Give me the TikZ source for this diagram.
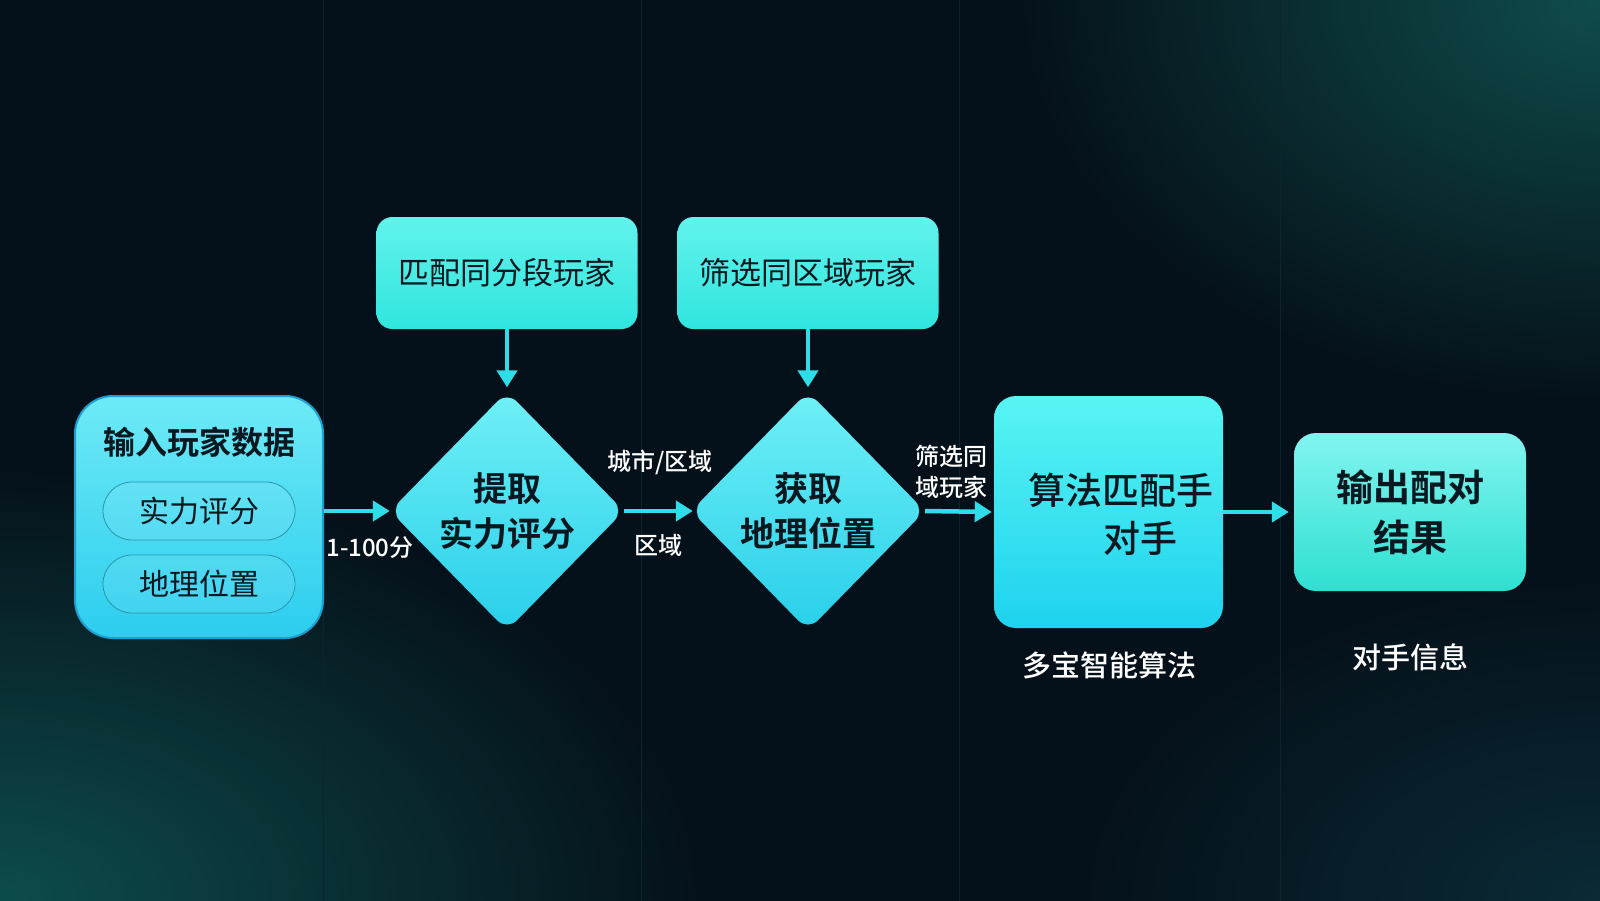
\documentclass[tikz,border=0pt]{standalone}
\usepackage{fontspec}
\setmainfont{Noto Sans CJK SC}[BoldFont={Noto Sans CJK SC Bold}]
\newfontfamily\cjkmed{Noto Sans CJK SC Medium}
\usetikzlibrary{shapes.geometric,arrows.meta}
\definecolor{bgc}{HTML}{05111A}
\definecolor{glowbl}{HTML}{0D4C4B}
\definecolor{glowtr}{HTML}{0F4C4A}
\definecolor{glowbr}{HTML}{0A2A36}
\definecolor{gridc}{HTML}{0C2430}
\definecolor{arrowc}{HTML}{2EDDE8}
\definecolor{inktext}{HTML}{071820}
\definecolor{inTop}{HTML}{6EEAF6}
\definecolor{inBot}{HTML}{2CCDEE}
\definecolor{inEdge}{HTML}{1E9FD2}
\definecolor{tbTop}{HTML}{62F2EC}
\definecolor{tbBot}{HTML}{2FE6DE}
\definecolor{diTop}{HTML}{70F0F6}
\definecolor{diBot}{HTML}{28CFEA}
\definecolor{alTop}{HTML}{58F4F2}
\definecolor{alBot}{HTML}{1ED2EE}
\definecolor{ouTop}{HTML}{82F4F0}
\definecolor{ouBot}{HTML}{2EE0D0}
\definecolor{pillEdge}{HTML}{2696AE}
\tikzset{
  flow/.style={draw=arrowc, line width=4.5pt, -{Triangle[length=17pt,width=20pt]}},
  inbox/.style={rectangle, rounded corners=38pt, minimum width=248pt, minimum height=242pt,
    draw=inEdge, line width=2pt, top color=inTop, bottom color=inBot},
  pill/.style={rectangle, rounded corners=29pt, minimum width=192pt, minimum height=58pt,
    draw=pillEdge, line width=0.8pt, fill=white, fill opacity=0.08, text opacity=1,
    text=inktext, font=\fontsize{30}{36}\selectfont},
  topbox/.style={rectangle, rounded corners=16pt, minimum width=261pt, minimum height=112pt,
    top color=tbTop, bottom color=tbBot, text=inktext,
    font=\fontsize{31}{36}\selectfont},
  dia/.style={diamond, aspect=1, minimum width=234pt, minimum height=239pt, inner sep=0pt,
    rounded corners=14pt, top color=diTop, bottom color=diBot,
    align=center, text=inktext, font=\bfseries\fontsize{34}{45}\selectfont},
  algobox/.style={rectangle, rounded corners=22pt, minimum width=229pt, minimum height=232pt,
    top color=alTop, bottom color=alBot},
  algtext/.style={text=inktext, font=\cjkmed\fontsize{37}{44}\selectfont, inner sep=0pt},
  outbox/.style={rectangle, rounded corners=22pt, minimum width=232pt, minimum height=158pt,
    top color=ouTop, bottom color=ouBot, align=center, text=inktext,
    font=\bfseries\fontsize{37}{50}\selectfont},
  lab/.style={text=white, font=\cjkmed\fontsize{24}{31}\selectfont, inner sep=0pt},
  sublab/.style={text=white, font=\cjkmed\fontsize{29}{34}\selectfont, inner sep=0pt},
}
\begin{document}
\begin{tikzpicture}[x=1pt,y=-1pt]
\useasboundingbox (0,0) rectangle (1600,900);
% background
\begin{scope}
  \clip (0,0) rectangle (1600,900);
  \fill[bgc] (-10,-10) rectangle (1610,910);
  \shade[inner color=glowbl, outer color=bgc] (0,900) ellipse (700 and 430);
  \shade[inner color=glowtr, outer color=bgc] (1600,0) ellipse (580 and 400);
  \shade[inner color=glowbr, outer color=bgc] (1600,900) ellipse (520 and 320);
  \foreach \gx in {323,641,959,1280} \draw[gridc, line width=1pt] (\gx,-10) -- (\gx,910);
\end{scope}

% input box
\node[inbox] (in) at (199,517) {};
\node[text=inktext, font=\bfseries\fontsize{32}{36}\selectfont] (intitle) at (199,442) {输入玩家数据};
\node[pill] (p1) at (199,511) {实力评分};
\node[pill] (p2) at (199,584) {地理位置};

% top boxes
\node[topbox] (t1) at (507,273) {匹配同分段玩家};
\node[topbox] (t2) at (808,273) {筛选同区域玩家};

% diamonds
\node[dia] (d1) at (507,511) {提取\\实力评分};
\node[dia] (d2) at (808,511) {获取\\地理位置};

% algorithm box
\node[algobox] (alg) at (1108.5,512) {};
\node[algtext] (algA) at (1121,490) {算法匹配手};
\node[algtext] (algB) at (1140,538) {对手};

% output box
\node[outbox] (out) at (1410,512) {输出配对\\结果};

% connectors
\draw[flow] (d1.west -| in.east) -- (d1.west);
\draw[flow, shorten >=4pt] (t1.south) -- (d1.north);
\draw[flow, shorten >=4pt] (t2.south) -- (d2.north);
\draw[flow, shorten >=-2pt] (d1.east) -- (d2.west);
\draw[flow, shorten >=2pt] (d2.east) -- (alg.west);
\draw[flow, shorten >=5pt] (alg.east) -- (out.west);

% labels
\node[lab] (l1) at (370,548) {1-100分};
\node[lab] (l2) at (660,462) {城市/区域};
\node[lab] (l3) at (658,545) {区域};
\node[lab, align=left] (l4) at (951,472) {筛选同\\域玩家};
\node[sublab] (l5) at (1109,665) {多宝智能算法};
\node[sublab] (l6) at (1410,657) {对手信息};
\end{tikzpicture}
\end{document}
